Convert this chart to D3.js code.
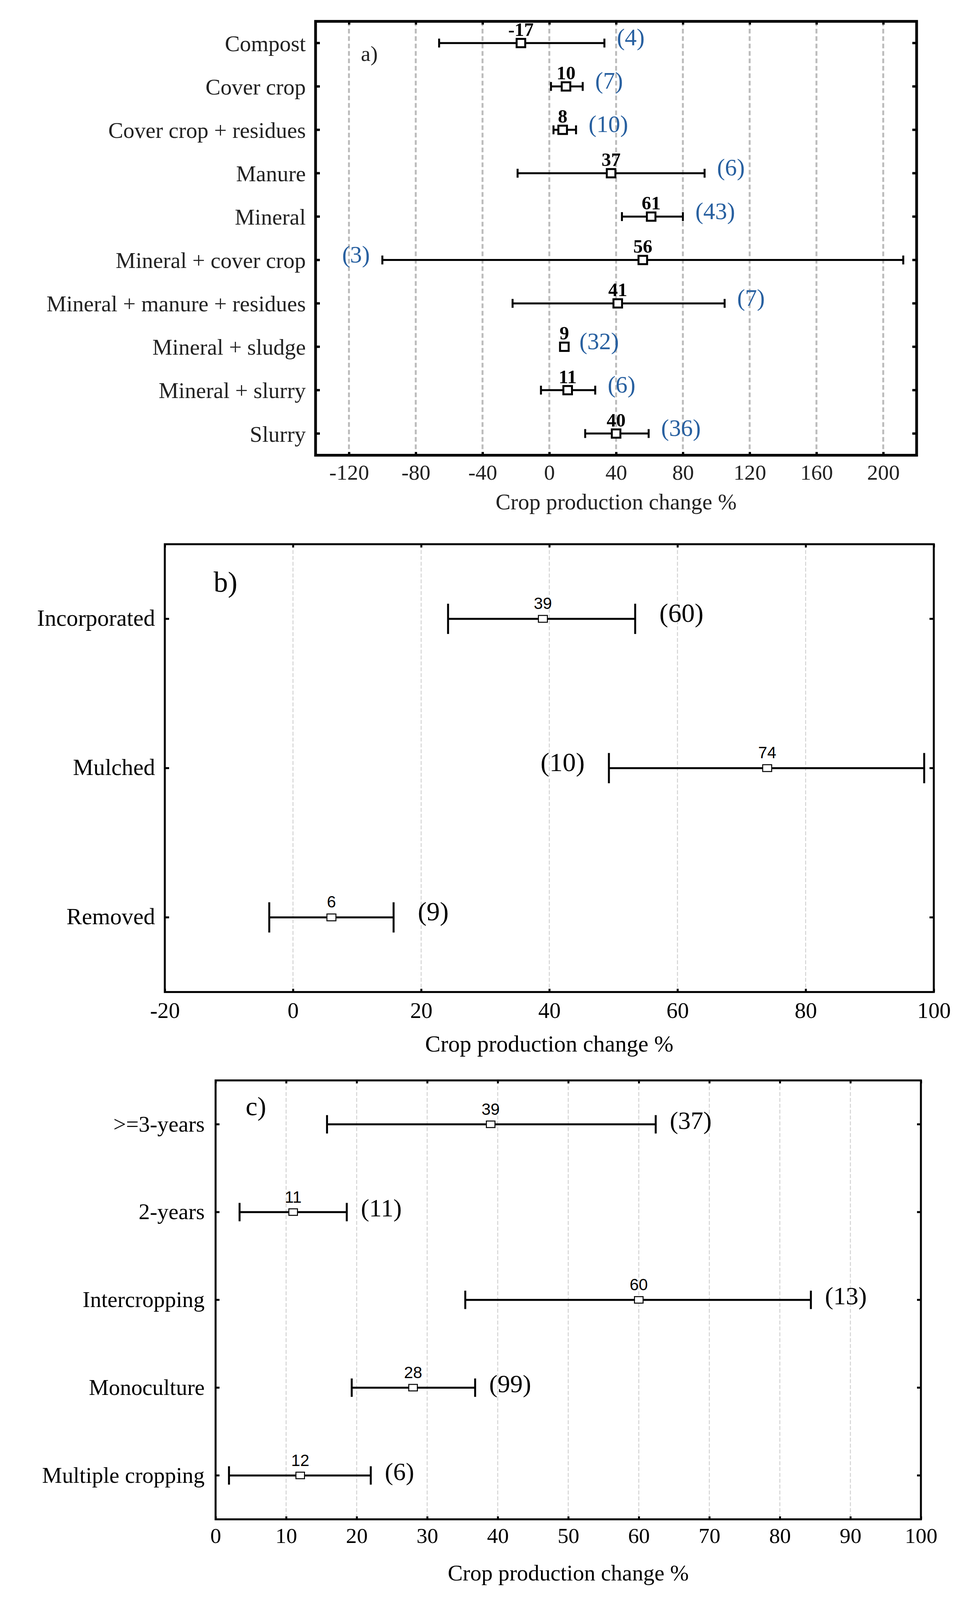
<!DOCTYPE html>
<html>
<head>
<meta charset="utf-8">
<script src="https://cdn.jsdelivr.net/npm/d3@7"></script>
<style>html,body{margin:0;background:#fff;overflow:hidden}</style>
</head>
<body>
<svg id="fig"></svg>
<script>
// --- panel a: fertiliser type ---
const catsA = ["Compost", "Cover crop", "Cover crop + residues", "Manure", "Mineral",
  "Mineral + cover crop", "Mineral + manure + residues", "Mineral + sludge", "Mineral + slurry", "Slurry"];
const meanA = [-17, 10, 8, 37, 61, 56, 41, 9, 11, 40];
const lowA = [-66, 1, 2.5, -19, 43.5, -100, -22, 7.5, -5, 21.5];
const highA = [33, 20, 16, 93, 80, 212, 105, 10.5, 27.5, 59.5];
const nA = [4, 7, 10, 6, 43, 3, 7, 32, 6, 36];
const ticksA = [-120, -80, -40, 0, 40, 80, 120, 160, 200];

// --- panel b: residue management ---
const catsB = ["Incorporated", "Mulched", "Removed"];
const meanB = [39, 74, 6];
const lowB = [24.2, 49.3, -3.7];
const highB = [53.4, 98.5, 15.7];
const nB = [60, 10, 9];
const ticksB = [-20, 0, 20, 40, 60, 80, 100];

// --- panel c: crop rotation ---
const catsC = [">=3-years", "2-years", "Intercropping", "Monoculture", "Multiple cropping"];
const meanC = [39, 11, 60, 28, 12];
const lowC = [15.8, 3.4, 35.4, 19.3, 1.9];
const highC = [62.4, 18.6, 84.4, 36.8, 22];
const nC = [37, 11, 13, 99, 6];
const ticksC = [0, 10, 20, 30, 40, 50, 60, 70, 80, 90, 100];

// the photo only keeps the top 4096px, so the figure is laid out
// in reference units and squeezed vertically to fit
const W = 2476, H = 4096;
const K = H / 5395;     // vertical squeeze
const F = 0.87;         // font size factor (between 1 and K)
const sy = v => v * K;
const fs = v => v * F;

const serif = "'Liberation Serif','Times New Roman',serif";
const sans = "'Liberation Sans',Arial,sans-serif";

const svg = d3.select("#fig").attr("width", W).attr("height", H);
svg.append("rect").attr("width", W).attr("height", H).attr("fill", "#fff");

function drawPanel(o) {
  const L = o.box[0], R = o.box[2];
  const T = sy(o.box[1]), B = sy(o.box[3]);
  const g = svg.append("g");
  const x = d3.scaleLinear().domain(o.domain).range([L, R]);
  const y = d3.scaleBand().domain(o.cats).range([T, B]);
  const yc = c => y(c) + y.bandwidth() / 2;

  // dashed grid
  g.append("g").selectAll("line").data(o.grid).join("line")
    .attr("x1", d => x(d)).attr("x2", d => x(d))
    .attr("y1", T).attr("y2", B)
    .attr("stroke", o.gridColor).attr("stroke-width", o.gridWidth)
    .attr("stroke-dasharray", o.gridDash);

  // axes, ticks pointing inward
  const bottom = g.append("g").attr("transform", `translate(0,${B})`)
    .call(d3.axisBottom(x).tickValues(o.ticks).tickSize(-sy(o.tickLen)).tickFormat(d => String(d)));
  bottom.selectAll("text").attr("y", sy(o.tickLabelY)).attr("dy", null)
    .attr("font-family", serif).attr("font-size", fs(o.tickFont)).attr("fill", o.textColor);

  g.append("g").attr("transform", `translate(0,${T})`)
    .call(d3.axisTop(x).tickValues(o.ticks).tickSize(-sy(o.tickLen)).tickFormat(""));

  const left = g.append("g").attr("transform", `translate(${L},0)`)
    .call(d3.axisLeft(y).tickSize(-o.tickLen).tickPadding(o.labelGap));
  left.selectAll("text").attr("dy", o.labelDy)
    .attr("font-family", serif).attr("font-size", fs(o.labelFont)).attr("fill", o.textColor);

  g.append("g").attr("transform", `translate(${R},0)`)
    .call(d3.axisRight(y).tickSize(-o.tickLen).tickFormat(""));

  g.selectAll(".domain").remove();
  g.selectAll(".tick line").attr("stroke", "#000").attr("stroke-width", o.tickWidth);

  // frame
  g.append("rect").attr("x", L).attr("y", T).attr("width", R - L).attr("height", B - T)
    .attr("fill", "none").attr("stroke", "#000").attr("stroke-width", o.frameWidth);

  // error bars
  const bars = g.append("g").selectAll("g").data(o.cats).join("g");
  bars.append("line")
    .attr("x1", (d, i) => x(o.low[i])).attr("x2", (d, i) => x(o.high[i]))
    .attr("y1", d => yc(d)).attr("y2", d => yc(d))
    .attr("stroke", "#000").attr("stroke-width", o.lineWidth);
  ["low", "high"].forEach(k => {
    bars.append("line")
      .attr("x1", (d, i) => x(o[k][i])).attr("x2", (d, i) => x(o[k][i]))
      .attr("y1", d => yc(d) - sy(o.capHalf)).attr("y2", d => yc(d) + sy(o.capHalf))
      .attr("stroke", "#000").attr("stroke-width", o.lineWidth);
  });
  bars.append("rect")
    .attr("x", (d, i) => x(o.mean[i]) - o.markW / 2)
    .attr("y", d => yc(d) - sy(o.markH) / 2)
    .attr("width", o.markW).attr("height", sy(o.markH))
    .attr("fill", "#fff").attr("stroke", "#000").attr("stroke-width", o.markStroke);

  // value above the marker
  bars.append("text")
    .attr("x", (d, i) => x(o.mean[i]))
    .attr("y", d => yc(d) - sy(o.valueLift))
    .attr("text-anchor", "middle")
    .attr("font-family", o.valueFamily).attr("font-size", fs(o.valueFont))
    .attr("font-weight", o.valueWeight).attr("fill", "#000")
    .text((d, i) => o.mean[i]);

  // sample count, right of the bar unless it would leave the frame
  bars.each(function (d, i) {
    const t = d3.select(this).append("text")
      .attr("x", x(o.high[i]) + o.countGap)
      .attr("y", yc(d) + sy(o.countDrop))
      .attr("font-family", serif).attr("font-size", fs(o.countFont))
      .attr("fill", o.countColor)
      .text(`(${o.n[i]})`);
    const w = t.node().getComputedTextLength();
    if (x(o.high[i]) + o.countGap + w > R - 8) {
      t.attr("x", x(o.low[i]) - o.countGap).attr("text-anchor", "end");
    }
  });

  // panel letter and axis title
  g.append("text").attr("x", L + o.letterAt[0]).attr("y", T + sy(o.letterAt[1]))
    .attr("font-family", serif).attr("font-size", fs(o.letterFont)).attr("fill", o.textColor)
    .text(o.letter);
  g.append("text").attr("x", (L + R) / 2).attr("y", B + sy(o.titleY))
    .attr("text-anchor", "middle")
    .attr("font-family", serif).attr("font-size", fs(o.titleFont)).attr("fill", o.textColor)
    .text("Crop production change %");
}

drawPanel({
  box: [808, 72, 2347, 1535], domain: [-140, 220], ticks: ticksA, grid: ticksA,
  cats: catsA, mean: meanA, low: lowA, high: highA, n: nA,
  gridColor: "#bdbdbd", gridWidth: 5, gridDash: "12,7",
  tickLen: 11, tickWidth: 6, frameWidth: 7,
  tickLabelY: 83, tickFont: 64, labelGap: 25, labelDy: "0.36em", labelFont: 66,
  textColor: "#222",
  lineWidth: 5, capHalf: 15, markW: 22, markH: 28, markStroke: 5,
  valueLift: 24, valueFont: 56, valueWeight: "bold", valueFamily: serif,
  countGap: 32, countDrop: 8, countFont: 70, countColor: "#2860a0",
  letter: "a)", letterAt: [116, 133], letterFont: 64,
  titleY: 183, titleFont: 66
});

drawPanel({
  box: [422, 1835, 2391, 3345], domain: [-20, 100], ticks: ticksB, grid: [0, 20, 40, 60, 80],
  cats: catsB, mean: meanB, low: lowB, high: highB, n: nB,
  gridColor: "#d3d3d3", gridWidth: 2.5, gridDash: "10,5",
  tickLen: 11, tickWidth: 5, frameWidth: 5,
  tickLabelY: 87, tickFont: 66, labelGap: 25, labelDy: "0.3em", labelFont: 68,
  textColor: "#000",
  lineWidth: 5, capHalf: 51, markW: 23, markH: 23, markStroke: 2.5,
  valueLift: 33, valueFont: 48, valueWeight: "normal", valueFamily: sans,
  countGap: 62, countDrop: 10, countFont: 78, countColor: "#000",
  letter: "b)", letterAt: [125, 160], letterFont: 84,
  titleY: 201, titleFont: 68
});

drawPanel({
  box: [552, 3643, 2358, 5123], domain: [0, 100], ticks: ticksC, grid: [10, 20, 30, 40, 50, 60, 70, 80, 90],
  cats: catsC, mean: meanC, low: lowC, high: highC, n: nC,
  gridColor: "#d3d3d3", gridWidth: 2.5, gridDash: "10,5",
  tickLen: 10, tickWidth: 5, frameWidth: 5,
  tickLabelY: 80, tickFont: 64, labelGap: 28, labelDy: "0.32em", labelFont: 66,
  textColor: "#000",
  lineWidth: 5, capHalf: 31, markW: 22, markH: 22, markStroke: 2.5,
  valueLift: 32, valueFont: 48, valueWeight: "normal", valueFamily: sans,
  countGap: 36, countDrop: 15, countFont: 74, countColor: "#000",
  letter: "c)", letterAt: [77, 117], letterFont: 78,
  titleY: 206, titleFont: 66
});
</script>
</body>
</html>
